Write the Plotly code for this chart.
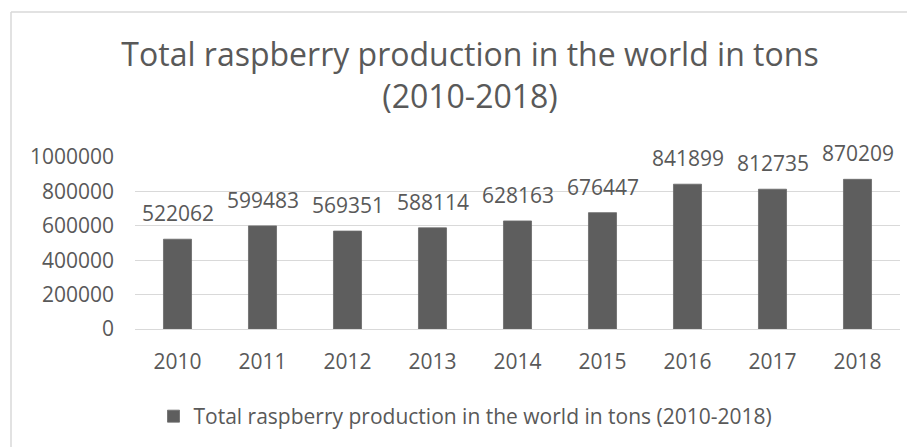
import plotly.graph_objects as go

years = ["2010", "2011", "2012", "2013", "2014", "2015", "2016", "2017", "2018"]
production = [522062, 599483, 569351, 588114, 628163, 676447, 841899, 812735, 870209]
y_ticks = [0, 200000, 400000, 600000, 800000, 1000000]
series_name = "Total raspberry production in the world in tons (2010-2018)"
title_text = "Total raspberry production in the world in tons<br>(2010-2018)"

FONT = "Open Sans"
GREY = "#595959"
BAR = "#5e5e5e"
GRID = "#d9d9d9"

W, H = 907, 439          # page body keeps an 8px margin
L, R, T, B = 127, 15, 149, 118
PW, PH = W - L - R, H - T - B

fig = go.Figure()
fig.add_trace(go.Bar(
    x=years, y=production, name=series_name,
    marker=dict(color=BAR, line=dict(color="#6a6a6a", width=0.8)),
    showlegend=True,
))

# data labels, placed at the category index of each bar
for i, v in enumerate(production):
    fig.add_annotation(x=i, y=v, text=str(v), showarrow=False,
                       yanchor="middle", yshift=26,
                       font=dict(family=FONT, size=21, color=GREY))

bx = (3 - L) / PW
by = 1 + (T - 4) / PH
fig.update_layout(
    width=W, height=H,
    margin=dict(l=L, r=R, t=T, b=B),
    paper_bgcolor="white", plot_bgcolor="white",
    bargap=0.67,
    title=dict(text=title_text, x=462 / W, xref="container", xanchor="center",
               y=1 - 58 / H, yref="container", yanchor="top",
               font=dict(family=FONT, size=32, color=GREY)),
    legend=dict(orientation="h", x=(457.5 - L) / PW, xanchor="center",
                y=1 - 388 / H, yref="container", yanchor="top",
                font=dict(family=FONT, size=21, color=GREY),
                itemwidth=30, bgcolor="rgba(0,0,0,0)"),
    font=dict(family=FONT, size=21, color=GREY),
    shapes=[dict(type="line", xref="paper", yref="paper",
                 x0=bx, x1=bx, y0=-2, y1=by,
                 line=dict(color=GRID, width=1.5)),
            dict(type="line", xref="paper", yref="paper",
                 x0=bx, x1=1.2, y0=by, y1=by,
                 line=dict(color=GRID, width=1.5))],
)
fig.update_xaxes(type="category", range=[-0.5, len(years) - 0.5],
                 showline=False, showgrid=False, ticks="",
                 ticklabelstandoff=18,
                 tickfont=dict(family=FONT, size=21, color=GREY))
fig.update_yaxes(range=[0, 1000000], tickvals=y_ticks, tickformat="d",
                 showgrid=True, gridcolor=GRID, gridwidth=1.2,
                 zeroline=True, zerolinecolor=GRID, zerolinewidth=1.2,
                 showline=False, ticks="", ticklabelstandoff=20,
                 tickfont=dict(family=FONT, size=21, color=GREY))

fig.write_html("out.html")
